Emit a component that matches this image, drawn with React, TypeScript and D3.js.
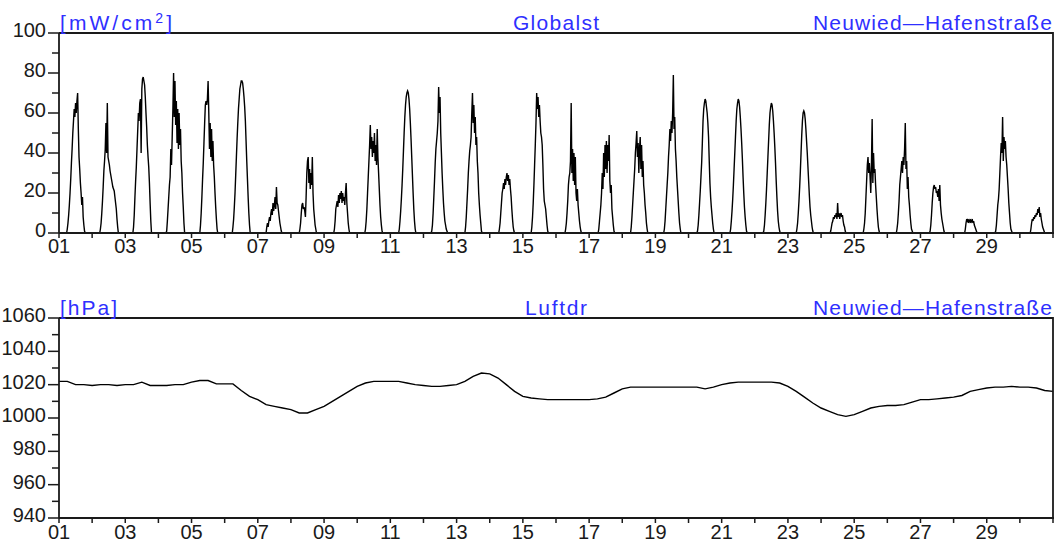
import React from "react";
import * as d3 from "d3";

// ---------- data ----------
// day-of-month tick positions and labels
const dayTicks = [1, 2, 3, 4, 5, 6, 7, 8, 9, 10, 11, 12, 13, 14, 15, 16, 17, 18, 19, 20, 21, 22, 23, 24, 25, 26, 27, 28, 29, 30, 31];
const dayLabels = ["01", "03", "05", "07", "09", "11", "13", "15", "17", "19", "21", "23", "25", "27", "29"];
const dayLabelDays = [1, 3, 5, 7, 9, 11, 13, 15, 17, 19, 21, 23, 25, 27, 29];

// Globalstrahlung [mW/cm²]: half-hourly values, 05:30 .. 19:00 for each day
const globalHours = [5.5, 6, 6.5, 7, 7.5, 8, 8.5, 9, 9.5, 10, 10.5, 11, 11.5, 12, 12.5, 13, 13.5, 14, 14.5, 15, 15.5, 16, 16.5, 17, 17.5, 18, 18.5, 19];
const globalDaily: number[][] = [
  [0, 2, 5, 9, 14, 20, 27, 35, 42, 50, 56, 62, 58, 65, 60, 66, 70, 52, 38, 32, 25, 20, 14, 18, 8, 4, 1, 0],
  [0, 2, 5, 10, 16, 23, 31, 36, 42, 55, 40, 65, 38, 36, 34, 31, 29, 27, 25, 23, 22, 21, 18, 15, 12, 7, 3, 0],
  [0, 3, 9, 18, 26, 33, 42, 51, 60, 56, 65, 67, 40, 72, 77, 78, 76, 74, 68, 60, 53, 44, 38, 33, 25, 15, 6, 0],
  [0, 1, 6, 12, 18, 24, 28, 42, 34, 48, 62, 80, 58, 76, 54, 66, 45, 62, 42, 60, 44, 52, 36, 30, 20, 13, 5, 0],
  [0, 0, 4, 10, 18, 27, 35, 45, 55, 64, 66, 64, 67, 76, 60, 42, 55, 38, 52, 36, 46, 34, 28, 20, 13, 7, 2, 0],
  [0, 3, 7, 13, 20, 29, 38, 47, 55, 62, 67, 72, 74, 76, 76, 75, 72, 68, 63, 56, 46, 36, 27, 18, 10, 4, 0, 0],
  [0, 0, 3, 5, 3, 6, 8, 6, 10, 12, 9, 15, 11, 14, 18, 12, 23, 15, 14, 11, 8, 5, 3, 1, 0, 0, 0, 0],
  [0, 0, 2, 5, 10, 14, 15, 12, 13, 11, 8, 18, 30, 36, 38, 25, 32, 22, 30, 24, 38, 20, 12, 8, 4, 2, 0, 0],
  [0, 0, 0, 0, 2, 6, 12, 14, 16, 13, 19, 15, 20, 17, 21, 15, 20, 16, 18, 14, 20, 25, 15, 10, 5, 2, 0, 0],
  [0, 2, 6, 12, 20, 28, 36, 44, 54, 42, 48, 38, 46, 40, 50, 36, 44, 34, 52, 38, 30, 22, 14, 8, 4, 1, 0, 0],
  [0, 0, 2, 6, 11, 17, 24, 32, 41, 50, 58, 64, 68, 70, 71, 70, 67, 62, 55, 47, 38, 29, 20, 12, 6, 2, 0, 0],
  [0, 1, 4, 10, 18, 26, 35, 42, 46, 50, 56, 73, 60, 68, 50, 40, 30, 22, 15, 10, 6, 4, 2, 1, 0, 0, 0, 0],
  [0, 0, 3, 8, 15, 22, 30, 36, 41, 44, 48, 60, 70, 55, 64, 50, 58, 44, 48, 36, 30, 20, 14, 9, 5, 1, 0, 0],
  [0, 0, 0, 2, 5, 10, 15, 20, 22, 25, 22, 27, 24, 28, 30, 26, 29, 24, 27, 22, 18, 12, 7, 3, 1, 0, 0, 0],
  [0, 0, 3, 8, 15, 24, 34, 44, 55, 70, 62, 68, 58, 64, 56, 50, 48, 44, 34, 22, 16, 14, 12, 8, 4, 1, 0, 0],
  [0, 0, 0, 2, 5, 10, 16, 24, 28, 30, 36, 65, 30, 42, 26, 40, 24, 38, 20, 16, 22, 14, 10, 6, 3, 1, 0, 0],
  [0, 0, 0, 2, 6, 10, 14, 20, 30, 22, 40, 28, 44, 32, 46, 30, 44, 36, 49, 26, 20, 24, 12, 8, 4, 1, 0, 0],
  [0, 0, 3, 8, 14, 20, 26, 32, 40, 45, 51, 38, 45, 30, 42, 48, 32, 44, 28, 36, 24, 20, 14, 10, 5, 2, 0, 0],
  [0, 0, 2, 6, 12, 18, 24, 30, 38, 44, 52, 46, 56, 50, 60, 79, 52, 58, 42, 36, 28, 22, 16, 10, 5, 2, 0, 0],
  [0, 0, 1, 4, 9, 15, 21, 28, 35, 45, 56, 62, 65, 67, 66, 63, 60, 55, 48, 36, 25, 18, 13, 9, 5, 2, 0, 0],
  [0, 0, 2, 6, 11, 17, 24, 32, 40, 48, 56, 62, 65, 67, 66, 63, 58, 52, 45, 37, 28, 20, 13, 8, 4, 1, 0, 0],
  [0, 0, 1, 4, 9, 15, 22, 30, 38, 46, 54, 60, 63, 65, 64, 61, 56, 50, 43, 35, 26, 18, 11, 6, 3, 1, 0, 0],
  [0, 0, 2, 5, 10, 16, 23, 31, 40, 49, 56, 60, 61, 60, 57, 52, 46, 40, 33, 26, 19, 13, 9, 6, 3, 1, 0, 0],
  [0, 0, 0, 1, 3, 5, 6, 8, 7, 9, 8, 10, 7, 15, 8, 10, 7, 9, 10, 8, 9, 6, 4, 3, 1, 0, 0, 0],
  [0, 0, 0, 2, 5, 10, 18, 26, 34, 38, 30, 35, 28, 20, 34, 57, 25, 40, 30, 32, 24, 18, 12, 7, 3, 1, 0, 0],
  [0, 0, 0, 2, 5, 10, 16, 24, 28, 32, 36, 30, 38, 34, 42, 55, 32, 36, 22, 28, 18, 14, 9, 5, 2, 1, 0, 0],
  [0, 0, 0, 1, 4, 9, 15, 20, 23, 24, 22, 23, 20, 21, 18, 22, 16, 24, 14, 10, 7, 5, 3, 1, 0, 0, 0, 0],
  [0, 0, 0, 0, 0, 0, 2, 5, 7, 6, 7, 5, 6, 7, 5, 6, 7, 5, 6, 4, 3, 2, 1, 0, 0, 0, 0, 0],
  [0, 0, 1, 4, 9, 14, 17, 22, 30, 38, 45, 40, 58, 36, 48, 42, 46, 38, 34, 28, 22, 15, 10, 5, 2, 1, 0, 0],
  [0, 0, 0, 0, 0, 2, 5, 7, 6, 8, 7, 9, 8, 10, 9, 12, 10, 13, 8, 10, 7, 5, 3, 2, 1, 0, 0, 0],
];

// Luftdruck [hPa]: 6-hourly values from day 01 00:00 to day 31 00:00
const pressureStepHours = 6;
const pressureValues = [
  1022, 1022, 1020, 1020, 1019.5, 1020, 1020, 1019.5, 1020, 1020,
  1021.5, 1019.5, 1019.5, 1019.5, 1020, 1020, 1021.5, 1022.5, 1022.5, 1020.5,
  1020.5, 1020.5, 1016.5, 1013, 1011, 1008, 1007, 1006, 1005, 1003,
  1003, 1005, 1007, 1010, 1013, 1016, 1019, 1021, 1022, 1022,
  1022, 1022, 1021, 1020, 1019.5, 1019, 1019, 1019.5, 1020, 1022,
  1025, 1027, 1026.5, 1024, 1020, 1016, 1013, 1012, 1011.5, 1011,
  1011, 1011, 1011, 1011, 1011, 1011.5, 1012.5, 1015, 1017.5, 1018.5,
  1018.5, 1018.5, 1018.5, 1018.5, 1018.5, 1018.5, 1018.5, 1018.5, 1017.5, 1018.5,
  1020, 1021, 1021.5, 1021.5, 1021.5, 1021.5, 1021.5, 1021, 1019, 1016,
  1012.5, 1009, 1006, 1004, 1002, 1001, 1002, 1004, 1006, 1007,
  1007.5, 1007.5, 1008, 1009.5, 1011, 1011, 1011.5, 1012, 1012.5, 1013.5,
  1016, 1017, 1018, 1018.5, 1018.5, 1019, 1018.5, 1018.5, 1018, 1016.5,
  1016,
];

const globalTicksMajor = [0, 20, 40, 60, 80, 100];
const globalTicksMinor = [10, 30, 50, 70, 90];
const pressureTicksMajor = [940, 960, 980, 1000, 1020, 1040, 1060];
const pressureTicksMinor = [950, 970, 990, 1010, 1030, 1050];

// ---------- layout ----------
const W = 1058;
const H = 545;
const X0 = 59;
const X1 = 1053;
const BLUE = "#2f2fff";
const INK = "#1a1a1a";
const FONT = "'Liberation Sans', Arial, sans-serif";

type PanelProps = {
  top: number;
  bottom: number;
  domain: [number, number];
  major: number[];
  minor: number[];
  unit: string;
  unitWidth: number;
  title: string;
  titleWidth: number;
  points: [number, number][];
  labelOffset: number;
  unitSup?: boolean;
};

const x = d3.scaleLinear().domain([1, 31]).range([X0, X1]);

function Panel(p: PanelProps) {
  const y = d3.scaleLinear().domain(p.domain).range([p.bottom, p.top]);
  const line = d3
    .line<[number, number]>()
    .x((d) => x(d[0]))
    .y((d) => y(d[1]));
  const station = "Neuwied\u2014Hafenstra\u00dfe";
  return (
    <g>
      {/* data */}
      <path d={line(p.points) || ""} fill="none" stroke="#000" strokeWidth={1.4} strokeLinejoin="miter" />
      {/* frame */}
      <path
        d={`M${X0},${p.top}H${X1}V${p.bottom}`}
        fill="none"
        stroke={INK}
        strokeWidth={1.8}
      />
      <line x1={X0} x2={X0} y1={p.top} y2={p.bottom} stroke={INK} strokeWidth={1.8} />
      <line x1={X0} x2={X1 + 1} y1={p.bottom} y2={p.bottom} stroke={INK} strokeWidth={1.8} />
      {/* y ticks */}
      {p.major.map((v) => (
        <g key={"M" + v}>
          <line x1={X0 - 11} x2={X0} y1={y(v)} y2={y(v)} stroke={INK} strokeWidth={1.5} />
          <text
            x={46}
            y={y(v) + 4}
            textAnchor="end"
            fontFamily={FONT}
            fontSize={20}
            fill={INK}
          >
            {v}
          </text>
        </g>
      ))}
      {p.minor.map((v) => (
        <line key={"m" + v} x1={X0 - 7} x2={X0} y1={y(v)} y2={y(v)} stroke={INK} strokeWidth={1.5} />
      ))}
      {/* x ticks */}
      {dayTicks.map((d) => (
        <line key={"x" + d} x1={x(d)} x2={x(d)} y1={p.bottom} y2={p.bottom + 5} stroke={INK} strokeWidth={1.5} />
      ))}
      {dayLabels.map((lab, i) => (
        <text
          key={"xl" + lab}
          x={x(dayLabelDays[i])}
          y={p.bottom + p.labelOffset}
          textAnchor="middle"
          fontFamily={FONT}
          fontSize={20}
          fill={INK}
        >
          {lab}
        </text>
      ))}
      {/* blue captions */}
      <text
        x={X0 + 1}
        y={p.top - 3}
        fontFamily={FONT}
        fontSize={21}
        fill={BLUE}
        textLength={p.unitWidth}
        lengthAdjust="spacing"
      >
        {p.unitSup ? (
          <>
            [mW/cm<tspan fontSize={14} dy={-7}>2</tspan>
            <tspan dy={7}>]</tspan>
          </>
        ) : (
          p.unit
        )}
      </text>
      <text
        x={(X0 + X1) / 2}
        y={p.top - 3}
        textAnchor="middle"
        fontFamily={FONT}
        fontSize={21}
        fill={BLUE}
        textLength={p.titleWidth}
        lengthAdjust="spacing"
      >
        {p.title}
      </text>
      <text
        x={X1 - 1}
        y={p.top - 3}
        textAnchor="end"
        fontFamily={FONT}
        fontSize={21}
        fill={BLUE}
        textLength={239}
        lengthAdjust="spacing"
      >
        {station}
      </text>
    </g>
  );
}

export default function App() {
  const globalPoints: [number, number][] = [];
  globalDaily.forEach((vals, di) => {
    vals.forEach((v, hi) => {
      globalPoints.push([1 + di + globalHours[hi] / 24, v]);
    });
  });
  globalPoints.unshift([1, 0]);
  globalPoints.push([31, 0]);

  const pressurePoints: [number, number][] = pressureValues.map((v, i) => [
    1 + (i * pressureStepHours) / 24,
    v,
  ]);

  return (
    <svg
      width={W}
      height={H}
      viewBox={`0 0 ${W} ${H}`}
      style={{ position: "absolute", left: 0, top: 0, background: "#fff" }}
    >
      <rect width={W} height={H} fill="#fff" />
      <Panel
        top={33}
        bottom={233}
        domain={[0, 100]}
        major={globalTicksMajor}
        minor={globalTicksMinor}
        unit="[mW/cm²]"
        unitSup
        unitWidth={112}
        title="Globalst"
        titleWidth={86}
        points={globalPoints}
        labelOffset={20}
      />
      <Panel
        top={318}
        bottom={518}
        domain={[940, 1060]}
        major={pressureTicksMajor}
        minor={pressureTicksMinor}
        unit="[hPa]"
        unitWidth={57}
        title="Luftdr"
        titleWidth={62}
        points={pressurePoints}
        labelOffset={21}
      />
    </svg>
  );
}
